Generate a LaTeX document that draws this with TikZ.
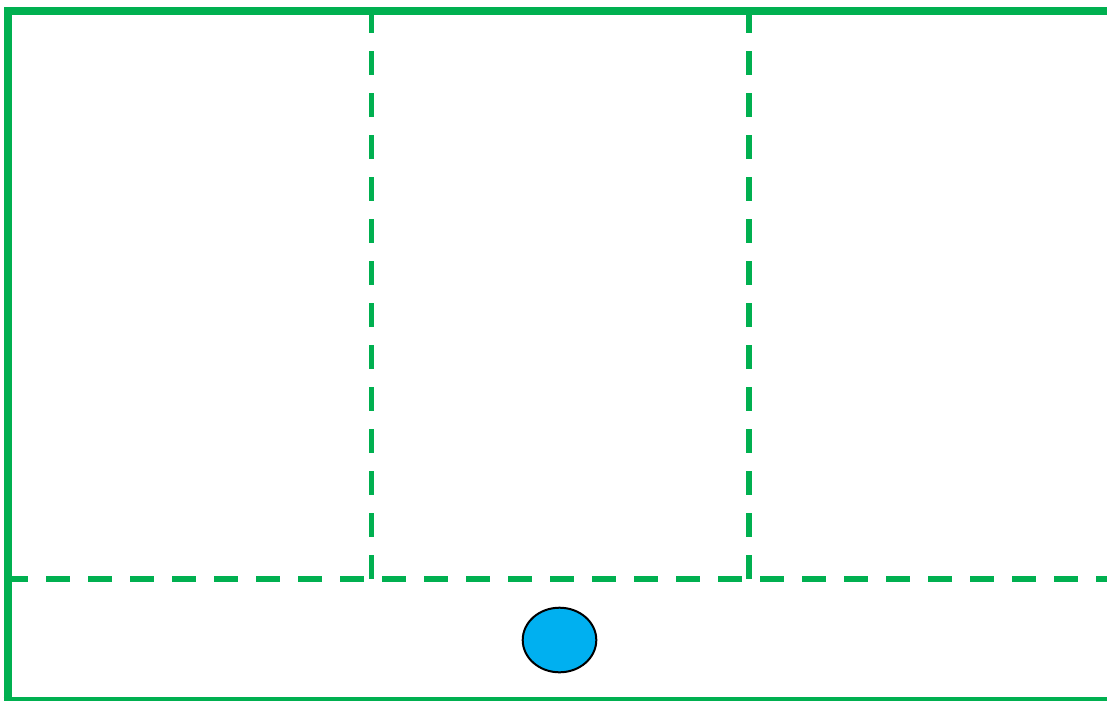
\documentclass[tikz,border=0pt]{standalone}
\usepackage{tikz}
\definecolor{wallgreen}{HTML}{00B050}
\definecolor{ballblue}{HTML}{00B0F0}

\begin{document}
\begin{tikzpicture}[x=1pt, y=-1pt,
  wall/.style={draw=wallgreen, line cap=butt},
  split/.style={draw=wallgreen, line width=5.5pt, dash pattern=on 24pt off 18pt}]
\useasboundingbox (0, 0) rectangle (1107, 702);
\draw[wall, line width=8pt, line join=miter] (1107, 11) -- (7.5, 11) -- (7.5, 700.5);
\draw[wall, line width=4pt] (3.5, 698.5) -- (1107, 698.5);
\draw[split] (4, 579) -- (1107, 579);
\draw[split] (371.5, 9) -- (371.5, 580);
\draw[split] (749, 9) -- (749, 580);
\draw[fill=ballblue, line width=2pt] (559.5, 640) ellipse (36.8 and 32.3);
\end{tikzpicture}
\end{document}
